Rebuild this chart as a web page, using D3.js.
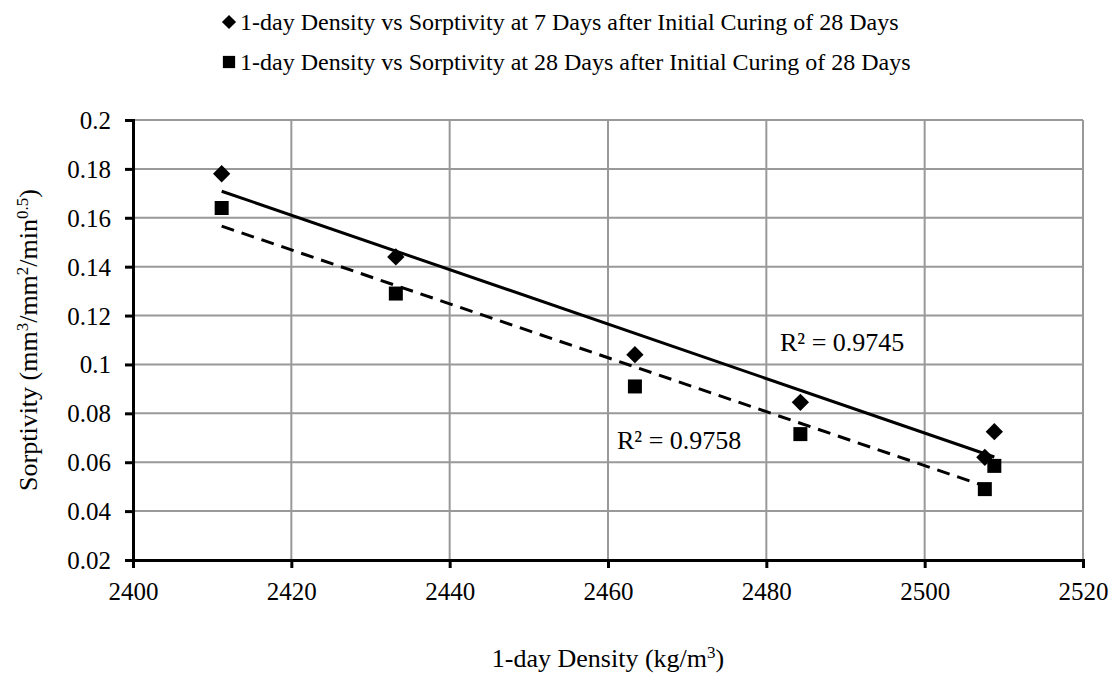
<!DOCTYPE html>
<html>
<head>
<meta charset="utf-8">
<script src="https://cdn.jsdelivr.net/npm/d3@7"></script>
<style>
  body { margin: 0; background: #fff; }
  svg { display: block; font-family: "Liberation Serif", "Times New Roman", serif; }
</style>
</head>
<body>
<svg id="chart" width="1116" height="674"></svg>
<script>
// density (kg/m3) for each specimen
const density = [2411.2, 2433.2, 2463.4, 2484.3, 2507.6, 2508.8];
// sorptivity readings
const sorp7 = [0.178, 0.144, 0.104, 0.0845, 0.062, 0.0725];
const sorp28 = [0.164, 0.129, 0.091, 0.0715, 0.049, 0.0585];
const seriesNames = [
  "1-day Density vs Sorptivity at 7 Days after Initial Curing of 28 Days",
  "1-day Density vs Sorptivity at 28 Days after Initial Curing of 28 Days"
];
const r2Labels = ["R² = 0.9745", "R² = 0.9758"];
const xTicks = [2400, 2420, 2440, 2460, 2480, 2500, 2520];
const yTicks = [0.02, 0.04, 0.06, 0.08, 0.1, 0.12, 0.14, 0.16, 0.18, 0.2];

const svg = d3.select("#chart");
const m = { left: 133, right: 1083, top: 120, bottom: 560 };

const x = d3.scaleLinear().domain([2400, 2520]).range([m.left, m.right]);
const y = d3.scaleLinear().domain([0.02, 0.2]).range([m.bottom, m.top]);

// grid
svg.append("g").selectAll("line.gx").data(xTicks.slice(1)).enter().append("line")
  .attr("x1", d => x(d)).attr("x2", d => x(d))
  .attr("y1", m.top).attr("y2", m.bottom)
  .attr("stroke", "#999").attr("stroke-width", 2);
svg.append("g").selectAll("line.gy").data(yTicks.slice(1)).enter().append("line")
  .attr("x1", m.left).attr("x2", m.right)
  .attr("y1", d => y(d)).attr("y2", d => y(d))
  .attr("stroke", "#999").attr("stroke-width", 2);

// axes
const xAxis = svg.append("g").attr("transform", "translate(0," + m.bottom + ")")
  .call(d3.axisBottom(x).tickValues(xTicks).tickSize(8).tickPadding(14).tickFormat(d3.format("d")));
const yAxis = svg.append("g").attr("transform", "translate(" + m.left + ",0)")
  .call(d3.axisLeft(y).tickValues(yTicks).tickSize(8).tickPadding(14).tickFormat(d => String(+d.toFixed(2))));
[xAxis, yAxis].forEach(a => {
  a.attr("font-family", null);
  a.select(".domain").attr("stroke", "#000").attr("stroke-width", 3);
  a.selectAll(".tick line").attr("stroke", "#000").attr("stroke-width", 3);
  a.selectAll(".tick text").attr("fill", "#000").style("font-size", "25px")
    .style("font-family", "'Liberation Serif', 'Times New Roman', serif");
});
yAxis.selectAll(".tick text").attr("dy", "0.34em");

// least squares trendline
function fit(xs, ys) {
  const mx = d3.mean(xs), my = d3.mean(ys);
  let sxy = 0, sxx = 0;
  xs.forEach((v, i) => { sxy += (v - mx) * (ys[i] - my); sxx += (v - mx) * (v - mx); });
  const b = sxy / sxx;
  return v => my + b * (v - mx);
}
const ext = d3.extent(density);
[[sorp7, null], [sorp28, "13,8"]].forEach(([ys, dash]) => {
  const f = fit(density, ys);
  svg.append("line")
    .attr("x1", x(ext[0])).attr("y1", y(f(ext[0])))
    .attr("x2", x(ext[1])).attr("y2", y(f(ext[1])))
    .attr("stroke", "#000").attr("stroke-width", 3)
    .attr("stroke-dasharray", dash);
});

const diamond = d3.symbol().type(d3.symbolSquare).size(150);
const square = d3.symbol().type(d3.symbolSquare).size(196);

svg.append("g").selectAll("path").data(density).enter().append("path")
  .attr("d", diamond)
  .attr("transform", (d, i) => "translate(" + x(d) + "," + y(sorp7[i]) + ") rotate(45)")
  .attr("fill", "#000");
svg.append("g").selectAll("path").data(density).enter().append("path")
  .attr("d", square)
  .attr("transform", (d, i) => "translate(" + x(d) + "," + y(sorp28[i]) + ")")
  .attr("fill", "#000");

// R² labels
svg.append("text").attr("x", 780).attr("y", 342).attr("dy", "0.35em")
  .style("font-size", "26px").text(r2Labels[0]);
svg.append("text").attr("x", 617).attr("y", 440).attr("dy", "0.35em")
  .style("font-size", "26px").text(r2Labels[1]);

// legend
const legX = 240;
const leg = svg.append("g");
leg.append("path").attr("d", d3.symbol().type(d3.symbolSquare).size(100))
  .attr("transform", "translate(" + (legX - 11) + ",22) rotate(45)");
leg.append("path").attr("d", d3.symbol().type(d3.symbolSquare).size(150))
  .attr("transform", "translate(" + (legX - 11) + ",62)");
leg.selectAll("text").data(seriesNames).enter().append("text")
  .attr("x", legX).attr("y", (d, i) => 22 + i * 40).attr("dy", "0.35em")
  .style("font-size", "24px").text(d => d);

// axis titles
svg.append("text").attr("x", (m.left + m.right) / 2).attr("y", 658).attr("dy", "0.35em")
  .attr("text-anchor", "middle").style("font-size", "26px")
  .html('1-day Density (kg/m<tspan baseline-shift="super" font-size="17px">3</tspan>)');
svg.append("text").attr("transform", "translate(28," + (m.top + m.bottom) / 2 + ") rotate(-90)")
  .attr("dy", "0.35em").attr("text-anchor", "middle").style("font-size", "26px")
  .html('Sorptivity (mm<tspan baseline-shift="super" font-size="17px">3</tspan>/mm<tspan baseline-shift="super" font-size="17px">2</tspan>/min<tspan baseline-shift="super" font-size="17px">0.5</tspan>)');
</script>
</body>
</html>
